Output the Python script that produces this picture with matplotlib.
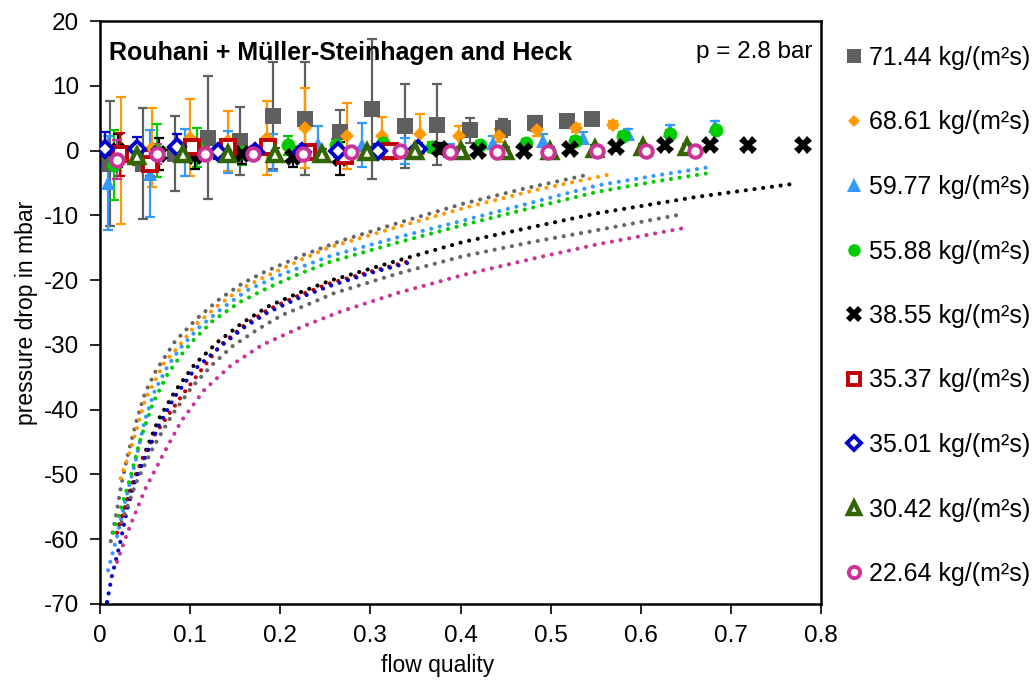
import matplotlib
matplotlib.use("Agg")
import matplotlib.pyplot as plt
from matplotlib.lines import Line2D

plt.rcParams["font.family"] = ["Liberation Sans", "DejaVu Sans"]
plt.rcParams["axes.unicode_minus"] = False

# ---------- measured data (flow quality, pressure drop in mbar) ----------
labels = ["71.44 kg/(m²s)", "68.61 kg/(m²s)", "59.77 kg/(m²s)", "55.88 kg/(m²s)",
          "38.55 kg/(m²s)", "35.37 kg/(m²s)", "35.01 kg/(m²s)", "30.42 kg/(m²s)",
          "22.64 kg/(m²s)"]

x71 = [0.011, 0.048, 0.083, 0.120, 0.155, 0.192, 0.228, 0.266, 0.302, 0.338, 0.374,
       0.410, 0.447, 0.483, 0.518, 0.546]
y71 = [-2.0, -2.0, -0.5, 2.0, 1.5, 5.4, 4.9, 2.8, 6.4, 3.8, 4.0, 3.1, 3.5, 4.2, 4.5, 4.8]
e71 = [9.7, 8.6, 5.8, 9.5, 5.2, 8.3, 8.7, 3.4, 10.8, 6.5, 6.3, 2.0, 1.4, 1.2, 1.0, 0.8]

x68 = [0.023, 0.058, 0.100, 0.142, 0.185, 0.228, 0.274, 0.313, 0.355, 0.398, 0.443,
       0.485, 0.528, 0.569]
y68 = [-1.6, 0.4, 2.0, 1.5, 2.0, 3.5, 2.2, 2.2, 2.6, 2.2, 2.3, 3.1, 3.5, 4.0]
e68 = [9.8, 6.1, 5.9, 4.6, 5.7, 6.2, 5.1, 3.0, 3.1, 1.6, 1.0, 0.8, 0.6, 0.5]

x59 = [0.009, 0.055, 0.094, 0.142, 0.192, 0.242, 0.291, 0.338, 0.388, 0.436, 0.492,
       0.536, 0.586, 0.632, 0.682]
y59 = [-5.0, -3.6, -0.3, -0.2, -0.3, 1.0, 0.8, 0.0, 0.0, 1.2, 1.5, 2.0, 2.6, 3.1, 3.8]
e59 = [7.3, 6.7, 3.7, 3.2, 2.9, 2.8, 3.4, 2.0, 1.0, 1.0, 1.0, 0.8, 0.8, 0.8, 0.8]

x55 = [0.015, 0.063, 0.108, 0.158, 0.209, 0.262, 0.314, 0.368, 0.422, 0.473, 0.527,
       0.580, 0.632, 0.684]
y55 = [-2.3, 0.0, 0.5, -0.3, 0.8, 0.8, 1.1, 0.5, 0.8, 1.2, 1.5, 2.2, 2.6, 3.1]
e55 = [5.4, 4.1, 3.0, 2.0, 1.5, 1.0, 1.0, 0.8, 0.6, 0.6, 0.6, 0.6, 0.6, 0.6]

x38 = [0.020, 0.065, 0.105, 0.158, 0.214, 0.266, 0.320, 0.377, 0.419, 0.471, 0.521,
       0.573, 0.627, 0.677, 0.719, 0.780]
y38 = [0.0, -0.5, -0.8, -0.6, -1.0, -1.2, -0.3, 0.3, 0.0, 0.0, 0.3, 0.5, 0.8, 0.8, 0.8, 0.9]
e38 = [2.5, 2.5, 2.0, 1.5, 1.5, 2.5, 1.0, 0.8, 0.6, 0.5, 0.5, 0.5, 0.5, 0.5, 0.5, 0.5]

x35a = [0.022, 0.055, 0.102, 0.142, 0.186, 0.231, 0.272, 0.322]
y35a = [-0.6, -2.0, 0.5, 0.5, 0.5, -0.3, -0.8, 0.0]
e35a = [3.3, 2.0, 1.5, 1.2, 1.0, 1.0, 1.0, 1.0]

x35b = [0.006, 0.041, 0.085, 0.131, 0.172, 0.224, 0.264, 0.309, 0.353]
y35b = [0.3, 0.3, 0.5, -0.3, -0.3, -0.3, 0.0, 0.0, 0.2]
e35b = [2.6, 1.8, 2.0, 1.0, 1.0, 1.0, 1.0, 1.0, 1.0]

x30 = [0.041, 0.092, 0.142, 0.194, 0.246, 0.296, 0.349, 0.400, 0.449, 0.499, 0.549,
       0.603, 0.651]
y30 = [-0.8, -0.6, -0.6, -0.6, -0.5, -0.3, 0.0, -0.1, 0.0, 0.0, 0.3, 0.5, 0.5]
e30 = [1.5, 1.2, 1.0, 1.0, 0.8, 0.8, 0.6, 0.6, 0.5, 0.5, 0.5, 0.5, 0.5]

x22 = [0.019, 0.063, 0.116, 0.170, 0.225, 0.278, 0.333, 0.388, 0.441, 0.497, 0.551,
       0.606, 0.660]
y22 = [-1.4, -0.5, -0.5, -0.5, -0.5, -0.3, 0.0, -0.2, -0.3, -0.2, 0.0, 0.0, 0.0]
e22 = [3.0, 1.5, 1.0, 1.0, 0.8, 0.8, 0.6, 0.6, 0.5, 0.5, 0.5, 0.5, 0.5]

cx71 = [0.012, 0.017, 0.024, 0.031, 0.041, 0.050, 0.062, 0.083, 0.107, 0.132, 0.157,
        0.180, 0.224, 0.268, 0.335, 0.403, 0.470, 0.539]
cy71 = [-60.3, -56.9, -51.3, -46.9, -41.5, -37.4, -34.0, -29.5, -26.0, -23.0, -20.6,
        -18.9, -16.2, -13.9, -11.0, -8.2, -5.9, -3.8]
cx68 = [0.023, 0.035, 0.050, 0.072, 0.085, 0.107, 0.132, 0.157, 0.183, 0.224, 0.255,
        0.330, 0.403, 0.480, 0.565]
cy68 = [-50.6, -45.7, -38.5, -32.6, -30.6, -26.8, -23.8, -21.3, -19.5, -16.8, -14.9,
        -11.8, -8.9, -6.2, -3.7]
cx59 = [0.009, 0.019, 0.029, 0.039, 0.050, 0.061, 0.075, 0.089, 0.110, 0.135, 0.163,
        0.200, 0.255, 0.330, 0.403, 0.480, 0.551, 0.615, 0.679]
cy59 = [-64.8, -59.5, -53.5, -48.2, -41.5, -37.0, -33.3, -30.5, -27.3, -24.4, -21.6,
        -19.2, -16.3, -13.4, -10.8, -8.0, -5.4, -3.9, -2.5]
cx55 = [0.015, 0.023, 0.031, 0.045, 0.059, 0.075, 0.091, 0.102, 0.125, 0.155, 0.186,
        0.220, 0.255, 0.330, 0.403, 0.480, 0.551, 0.615, 0.679]
cy55 = [-59.0, -55.3, -51.8, -44.5, -38.9, -34.5, -31.4, -29.5, -26.3, -23.4, -21.2,
        -19.1, -17.2, -14.2, -11.5, -8.8, -6.4, -4.8, -3.4]
cx38 = [0.022, 0.035, 0.050, 0.065, 0.083, 0.105, 0.131, 0.158, 0.186, 0.220, 0.255,
        0.330, 0.403, 0.480, 0.551, 0.660, 0.771]
cy38 = [-57.7, -51.8, -46.6, -41.5, -37.2, -33.0, -29.5, -26.6, -24.1, -22.0, -20.1,
        -17.0, -14.1, -11.8, -9.7, -7.2, -5.1]
cx35a = [0.019, 0.029, 0.039, 0.060, 0.090, 0.110, 0.134, 0.160, 0.186, 0.220, 0.255,
         0.300, 0.345]
cy35a = [-59.0, -54.5, -50.3, -44.0, -38.0, -34.3, -30.0, -27.0, -24.6, -22.4, -20.5,
         -18.7, -17.0]
cx35b = [0.0078, 0.013, 0.022, 0.030, 0.039, 0.050, 0.065, 0.083, 0.105, 0.134, 0.160,
         0.186, 0.220, 0.255, 0.300, 0.348]
cy35b = [-69.7, -65.8, -60.8, -55.5, -51.0, -47.4, -42.5, -38.0, -33.8, -30.2, -27.3,
         -25.0, -22.8, -20.9, -18.9, -17.1]
cx30 = [0.024, 0.040, 0.059, 0.080, 0.102, 0.125, 0.147, 0.175, 0.202, 0.235, 0.260,
        0.330, 0.403, 0.480, 0.551, 0.647]
cy30 = [-57.4, -51.3, -45.8, -40.8, -36.5, -33.0, -30.2, -27.6, -25.4, -23.5, -22.0,
        -19.0, -16.3, -14.1, -12.3, -9.8]
cx22 = [0.019, 0.027, 0.035, 0.050, 0.069, 0.090, 0.116, 0.145, 0.180, 0.224, 0.268,
        0.330, 0.403, 0.480, 0.551, 0.654]
cy22 = [-63.5, -60.3, -57.4, -52.3, -47.2, -41.8, -36.9, -33.2, -30.0, -27.2, -24.8,
        -22.0, -19.2, -16.7, -14.5, -11.8]

# ---------- styles ----------
GREY = "#5f5f5f"
ORANGE = "#ff9900"
LBLUE = "#3399ff"
GREEN = "#00cc00"
BLACK = "#000000"
RED = "#c00000"
BLUE = "#0000cc"
DGREEN = "#336600"
PINK = "#cc3399"

series = [
    (x71, y71, e71, dict(marker="s", ms=11, mfc=GREY, mec=GREY, mew=0), GREY),
    (x68, y68, e68, dict(marker="D", ms=7.2, mfc=ORANGE, mec=ORANGE, mew=0), ORANGE),
    (x59, y59, e59, dict(marker="^", ms=10.5, mfc=LBLUE, mec=LBLUE, mew=0), LBLUE),
    (x55, y55, e55, dict(marker="o", ms=10, mfc=GREEN, mec=GREEN, mew=0), GREEN),
    (x38, y38, e38, dict(marker="X", ms=12.5, mfc=BLACK, mec=BLACK, mew=0), BLACK),
    (x35a, y35a, e35a, dict(marker="s", ms=9.5, mfc="white", mec=RED, mew=2.8), RED),
    (x35b, y35b, e35b, dict(marker="D", ms=8, mfc="white", mec=BLUE, mew=2.8), BLUE),
    (x30, y30, e30, dict(marker="^", ms=10, mfc="white", mec=DGREEN, mew=3.2), DGREEN),
    (x22, y22, e22, dict(marker="o", ms=9, mfc="white", mec=PINK, mew=2.8), PINK),
]

curves = [
    (cx71, cy71, "#666666"), (cx68, cy68, ORANGE), (cx59, cy59, LBLUE),
    (cx55, cy55, GREEN), (cx38, cy38, BLACK), (cx35a, cy35a, RED),
    (cx35b, cy35b, BLUE), (cx30, cy30, "#666666"), (cx22, cy22, PINK),
]

fig = plt.figure(figsize=(10.35, 6.8), dpi=100)
ax = fig.add_axes([100 / 1035, 76 / 680, 721 / 1035, 583 / 680])

for cx, cy, c in curves:
    ax.plot(cx, cy, color=c, lw=3.0, linestyle=(0, (0.01, 2.1)),
            dash_capstyle="round", zorder=2)

for xs, ys, es, st, c in series:
    ax.errorbar(xs, ys, yerr=es, fmt="none", ecolor=c, elinewidth=1.6,
                capsize=3.5, capthick=1.6, zorder=3)
for xs, ys, es, st, c in series:
    ax.plot(xs, ys, linestyle="none", zorder=4, **st)

ax.set_xlim(0, 0.8)
ax.set_ylim(-70, 20)
ax.set_xticks([0, 0.1, 0.2, 0.3, 0.4, 0.5, 0.6, 0.7, 0.8])
ax.set_xticklabels(["0", "0.1", "0.2", "0.3", "0.4", "0.5", "0.6", "0.7", "0.8"])
ax.set_yticks(range(-70, 21, 10))
ax.tick_params(labelsize=17.5, length=7, width=1.2, direction="out", pad=8)
for sp in ax.spines.values():
    sp.set_linewidth(1.8)

ax.set_xlabel("flow quality", fontsize=16.5)
ax.xaxis.set_label_coords((438 - 100) / 721, -0.085)
ax.set_ylabel("pressure drop in mbar", fontsize=16.5, labelpad=4)

ax.text(0.012, 0.965, "Rouhani + Müller-Steinhagen and Heck", transform=ax.transAxes,
        fontsize=18, fontweight="bold", ha="left", va="top")
ax.text(0.988, 0.965, "p = 2.8 bar", transform=ax.transAxes,
        fontsize=17.5, ha="right", va="top")

# legend with markers only
handles = []
for xs, ys, es, st, c in series:
    s = dict(st)
    s["ms"] = s["ms"] * 0.9
    handles.append(Line2D([], [], linestyle="none", **s))
fig.legend(handles, labels, loc="upper left", bbox_to_anchor=(844 / 1035, 1 - 46 / 680),
           frameon=False, fontsize=18, handlelength=0.8, handletextpad=0.2,
           labelspacing=1.62, borderaxespad=0, borderpad=0)

fig.savefig("out.png", dpi=100)
